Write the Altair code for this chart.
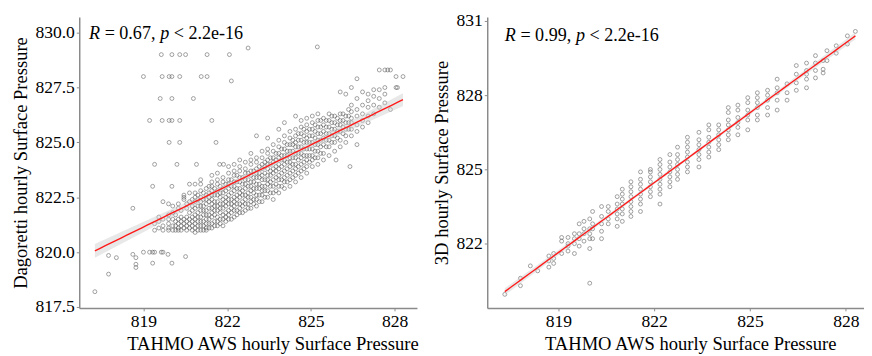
import altair as alt
import numpy as np
import pandas as pd

FONT = "Liberation Serif"

# ---------------- Left panel: Dagoretti vs TAHMO ----------------
left_col_x = [819.40, 819.55, 819.70, 819.90, 820.05, 820.25, 820.45, 820.65, 820.85, 821.05,
              821.25, 821.45, 821.65, 821.85, 822.05, 822.25, 822.45, 822.65, 822.85, 823.05,
              823.25, 823.45, 823.65, 823.85, 824.05, 824.25, 824.45, 824.65, 824.85, 825.05,
              825.25, 825.45, 825.65, 825.85, 826.05, 826.25, 826.45, 826.65, 826.85, 827.05,
              827.25, 827.45, 827.65, 827.85, 828.05, 828.30]
left_col_y = [
    [821.0, 821.3],
    [821.1, 821.4, 821.6],
    [821.0, 821.2, 821.5, 822.3],
    [821.0, 821.1, 821.3, 821.5, 821.7, 822.2],
    [821.0, 821.2, 821.5, 821.8, 822.1],
    [821.0, 821.1, 821.3, 821.5, 822.0, 822.2],
    [821.1, 821.3, 821.5, 822.4, 822.5, 822.6],
    [821.1, 821.3, 821.5, 821.8, 822.3, 822.7, 823.1],
    [820.9, 821.1, 821.3, 821.5, 821.7, 822.0, 822.3, 822.5, 822.7, 823.1],
    [821.0, 821.2, 821.4, 821.6, 821.9, 822.1, 822.3, 822.5, 822.8, 823.1, 823.3],
    [821.0, 821.1, 821.3, 821.5, 821.7, 821.9, 822.2, 822.4, 822.6, 822.9],
    [821.1, 821.3, 821.6, 821.8, 822.0, 822.2, 822.4, 822.6, 822.8, 823.0, 823.2, 823.5],
    [821.2, 821.4, 821.6, 821.9, 822.1, 822.3, 822.6, 822.8, 823.1, 823.3, 823.6],
    [821.2, 821.5, 821.7, 822.0, 822.2, 822.4, 822.7, 822.9, 823.2, 823.4],
    [821.5, 821.7, 821.9, 822.2, 822.4, 822.6, 822.9, 823.1, 823.3, 823.6, 823.9],
    [821.6, 821.9, 822.1, 822.3, 822.5, 822.8, 823.0, 823.2, 823.5, 823.7, 824.0],
    [821.8, 822.0, 822.2, 822.5, 822.7, 822.9, 823.2, 823.4, 823.7, 823.9, 824.2],
    [821.9, 822.2, 822.4, 822.6, 822.9, 823.1, 823.3, 823.6, 823.8, 824.1],
    [822.0, 822.3, 822.5, 822.8, 823.0, 823.2, 823.5, 823.7, 824.0, 824.2, 824.5],
    [822.1, 822.4, 822.6, 822.9, 823.1, 823.4, 823.6, 823.8, 824.1, 824.3, 825.3],
    [822.3, 822.6, 822.8, 823.0, 823.3, 823.5, 823.8, 824.0, 824.3, 824.6],
    [822.5, 822.8, 823.1, 823.3, 823.5, 823.8, 824.0, 824.2, 824.5, 824.7, 825.2],
    [822.4, 822.7, 823.0, 823.3, 823.6, 823.8, 824.1, 824.3, 824.6, 824.9],
    [822.7, 823.0, 823.3, 823.5, 823.8, 824.0, 824.3, 824.5, 824.8, 825.1, 825.6],
    [822.9, 823.2, 823.4, 823.7, 824.0, 824.2, 824.4, 824.7, 825.0, 825.3, 825.9],
    [823.0, 823.3, 823.6, 823.9, 824.1, 824.3, 824.6, 824.9, 825.2, 825.5],
    [823.2, 823.5, 823.8, 824.0, 824.3, 824.5, 824.8, 825.0, 825.3, 825.6, 826.2],
    [823.4, 823.7, 824.0, 824.3, 824.5, 824.8, 825.1, 825.4, 825.7, 826.0],
    [823.6, 823.9, 824.2, 824.4, 824.7, 825.0, 825.2, 825.5, 825.8, 826.1],
    [823.9, 824.2, 824.4, 824.7, 825.0, 825.3, 825.6, 825.9, 826.2],
    [824.0, 824.3, 824.6, 824.9, 825.1, 825.4, 825.7, 826.0, 826.3],
    [824.2, 824.5, 824.9, 825.2, 825.5, 825.8, 826.1],
    [824.4, 824.8, 825.1, 825.4, 825.7, 826.0, 826.3],
    [824.6, 825.0, 825.3, 825.6, 825.9, 826.2],
    [824.8, 825.1, 825.5, 825.8, 826.0, 826.3, 827.3],
    [825.0, 825.3, 825.6, 825.9, 826.2, 827.2],
    [825.3, 825.6, 825.9, 826.1, 826.4, 826.7, 827.5],
    [824.9, 825.5, 825.8, 826.2, 826.5, 827.0, 827.9],
    [825.7, 826.0, 826.3, 826.7, 827.3],
    [825.9, 826.2, 826.6, 826.9, 827.2],
    [826.3, 826.7, 827.1, 827.4],
    [826.6, 827.0, 827.4, 828.3],
    [826.8, 827.2, 827.5, 828.3],
    [826.5, 828.3],
    [827.5, 828.0],
    [828.0],
]
# in-between columns of the dense main cloud
left_col2_x = [820.15, 820.35, 820.55, 820.75, 820.95, 821.15, 821.35, 821.55, 821.75, 821.95,
               822.15, 822.35, 822.55, 822.75, 822.95, 823.15, 823.35, 823.55, 823.75, 823.95,
               824.15, 824.35, 824.55, 824.75, 824.95, 825.15, 825.35, 825.55, 825.75, 825.95,
               826.15, 826.35]
left_col2_y = [
    [821.0, 821.2, 821.4, 821.7],
    [821.0, 821.2, 821.4, 821.6, 821.9],
    [821.0, 821.2, 821.4, 821.6, 822.0, 822.2],
    [821.0, 821.2, 821.4, 821.6, 821.9, 822.1, 822.4],
    [821.0, 821.2, 821.4, 821.6, 821.8, 822.1, 822.4, 822.6],
    [821.0, 821.2, 821.4, 821.7, 821.9, 822.1, 822.4, 822.7],
    [821.1, 821.3, 821.5, 821.7, 822.0, 822.3, 822.5, 822.7, 823.0],
    [821.2, 821.4, 821.7, 821.9, 822.1, 822.3, 822.6, 822.9],
    [821.3, 821.5, 821.8, 822.0, 822.2, 822.5, 822.7, 823.0],
    [821.4, 821.6, 821.8, 822.1, 822.3, 822.5, 822.8, 823.1],
    [821.5, 821.8, 822.0, 822.2, 822.4, 822.7, 823.0, 823.3],
    [821.7, 821.9, 822.2, 822.4, 822.6, 822.9, 823.2, 823.5],
    [821.8, 822.1, 822.3, 822.6, 822.8, 823.1, 823.4],
    [822.0, 822.2, 822.5, 822.7, 823.0, 823.3, 823.6],
    [822.2, 822.4, 822.7, 822.9, 823.2, 823.4, 823.7],
    [822.3, 822.6, 822.9, 823.1, 823.4, 823.6, 823.9],
    [822.5, 822.8, 823.0, 823.3, 823.6, 823.9, 824.1],
    [822.7, 823.0, 823.2, 823.5, 823.7, 824.0, 824.3],
    [822.8, 823.1, 823.4, 823.7, 823.9, 824.2, 824.5],
    [823.0, 823.3, 823.6, 823.9, 824.2, 824.4, 824.7],
    [823.2, 823.5, 823.8, 824.1, 824.4, 824.6, 824.9],
    [823.4, 823.7, 824.0, 824.3, 824.6, 824.9, 825.1],
    [823.6, 823.9, 824.2, 824.5, 824.8, 825.1, 825.4],
    [823.8, 824.1, 824.4, 824.7, 825.0, 825.3, 825.6],
    [824.1, 824.4, 824.7, 825.0, 825.3, 825.6],
    [824.3, 824.6, 824.9, 825.2, 825.5, 825.8],
    [824.5, 824.8, 825.1, 825.4, 825.7, 826.0],
    [824.8, 825.1, 825.4, 825.7, 826.0],
    [825.0, 825.3, 825.6, 825.9, 826.2],
    [825.2, 825.5, 825.8, 826.1],
    [825.4, 825.7, 826.0, 826.3],
    [825.6, 825.9, 826.2, 826.5],
]
left_extra_x = [819.64, 820.02, 820.30, 820.51, 821.28, 822.08, 822.75, 825.23,
                819.00, 819.67, 819.92, 820.02, 820.30, 821.07, 821.28, 822.15,
                819.60, 820.02, 820.79,
                819.22, 819.67, 819.92, 820.02, 820.30, 821.45,
                819.92, 820.30, 821.60,
                819.40, 820.20, 820.90, 821.73, 821.87,
                817.26, 817.75, 817.75, 818.03, 818.62, 818.62, 818.73, 818.73, 818.73,
                819.00, 819.22, 819.33, 819.40, 819.64, 819.70, 819.88, 819.33, 820.02,
                820.51, 819.33, 820.02, 826.40, 825.90, 828.10, 827.75]
left_extra_y = [829.0, 829.0, 829.0, 829.0, 829.0, 829.0, 829.3, 829.35,
                828.0, 828.0, 828.0, 828.0, 828.0, 828.0, 828.0, 827.8,
                827.0, 827.0, 827.0,
                826.0, 826.0, 826.0, 826.0, 826.0, 826.0,
                825.0, 825.0, 825.0,
                824.0, 824.0, 824.0, 824.0, 824.0,
                818.2, 819.0, 819.85, 819.75, 822.0, 819.9, 819.75, 819.45, 819.3,
                820.0, 820.0, 820.0, 820.0, 820.0, 820.0, 819.9, 819.5, 819.5,
                819.8, 823.0, 823.0, 823.9, 824.2, 827.5, 828.3]

# ---------------- Right panel: 3D vs TAHMO ----------------
right_col_x = [817.32, 817.81, 818.12, 818.35, 818.70, 818.85, 819.10, 819.30, 819.50, 819.65,
               819.80, 819.98, 820.07, 820.35, 820.56, 820.84, 821.00, 821.27, 821.57, 821.88,
               822.18, 822.49, 822.73, 823.04, 823.40, 823.71, 824.02, 824.32, 824.62, 824.93,
               825.23, 825.55, 825.85, 826.16, 826.45, 826.77, 827.05, 827.29, 827.41, 827.70,
               828.05, 828.30]
right_col_y = [
    [819.95],
    [820.3, 820.6],
    [821.1],
    [820.9],
    [821.05, 821.3, 821.5],
    [821.2, 821.4, 821.6],
    [821.6, 822.1, 822.25],
    [821.7, 821.9, 822.0, 822.25],
    [821.6, 822.0, 822.2, 822.4],
    [821.9, 822.2, 822.4, 822.8],
    [822.1, 822.4, 822.6, 822.9],
    [820.4, 821.8, 822.2, 822.4, 822.6, 823.0],
    [822.2, 822.6, 822.8, 823.3],
    [822.2, 822.5, 822.8, 823.1, 823.5],
    [822.8, 823.0, 823.3, 823.5],
    [822.7, 823.0, 823.2, 823.4, 823.6, 823.9],
    [822.9, 823.2, 823.4, 823.6, 823.8, 824.0, 824.2],
    [823.1, 823.3, 823.5, 823.7, 823.9, 824.1, 824.3, 824.5],
    [823.3, 823.6, 823.8, 824.0, 824.2, 824.4, 824.6, 824.9],
    [823.9, 824.1, 824.3, 824.5, 824.7, 824.9, 825.0],
    [823.6, 824.0, 824.2, 824.4, 824.6, 824.8, 825.0, 825.2, 825.4],
    [824.3, 824.5, 824.7, 824.9, 825.1, 825.3, 825.6],
    [824.6, 824.8, 825.0, 825.2, 825.4, 825.6, 825.9],
    [824.9, 825.1, 825.3, 825.5, 825.7, 825.9, 826.1, 826.3],
    [825.1, 825.4, 825.6, 825.8, 826.0, 826.2, 826.5],
    [825.5, 825.7, 825.9, 826.1, 826.3, 826.6, 826.8],
    [825.8, 826.0, 826.2, 826.4, 826.6, 826.8],
    [826.2, 826.4, 826.6, 826.8, 827.0, 827.3, 827.5],
    [826.4, 826.7, 826.9, 827.1, 827.4, 827.6],
    [826.6, 827.0, 827.2, 827.4, 827.7, 827.9],
    [827.0, 827.2, 827.5, 827.7, 827.9, 828.1],
    [827.2, 827.5, 827.8, 828.0, 828.2],
    [827.4, 827.8, 828.1, 828.3, 828.65],
    [827.8, 828.1, 828.46],
    [828.2, 828.5, 828.85, 829.2],
    [828.3, 828.65, 828.85, 829.0, 829.3],
    [828.7, 829.0, 829.3, 829.6],
    [828.9, 829.05, 829.4],
    [829.4, 829.8],
    [829.7, 830.0],
    [830.07, 830.4],
    [830.58],
]

left_r = "0.67"
right_r = "0.99"
p_value = "2.2e-16"
x_title = "TAHMO AWS hourly Surface Pressure"
left_y_title = "Dagoretti hourly Surface Pressure"
right_y_title = "3D hourly Surface Pressure"

left_x_ticks = [819, 822, 825, 828]
left_y_ticks = [817.5, 820.0, 822.5, 825.0, 827.5, 830.0]
right_x_ticks = [819, 822, 825, 828]
right_y_ticks = [822, 825, 828, 831]


def build_points(col_sets, ex=None, ey=None):
    xs, ys = [], []
    for cx, cy in col_sets:
        for x, col in zip(cx, cy):
            for y in col:
                xs.append(x)
                ys.append(y)
    if ex:
        xs += ex
        ys += ey
    return pd.DataFrame({"x": xs, "y": ys})


def fit_band(df):
    x = df["x"].to_numpy()
    y = df["y"].to_numpy()
    n = len(x)
    b, a = np.polyfit(x, y, 1)
    xg = np.linspace(x.min(), x.max(), 60)
    yhat = a + b * xg
    s = np.sqrt(((y - (a + b * x)) ** 2).sum() / (n - 2))
    se = s * np.sqrt(1.0 / n + (xg - x.mean()) ** 2 / ((x - x.mean()) ** 2).sum())
    return pd.DataFrame({"x": xg, "fit": yhat, "lo": yhat - 1.96 * se, "hi": yhat + 1.96 * se})


def panel(df, x_dom, y_dom, x_ticks, y_ticks, y_fmt, y_title, r_text, w, h, tx, ty, title_x):
    band = fit_band(df)
    xs = alt.Scale(domain=x_dom, nice=False, zero=False)
    ys = alt.Scale(domain=y_dom, nice=False, zero=False)
    xaxis = alt.Axis(values=x_ticks, format="d", title=x_title, grid=False, titleX=title_x)
    yaxis = alt.Axis(values=y_ticks, format=y_fmt, title=y_title, grid=False)
    pts = alt.Chart(df).mark_point(shape="circle", filled=False, size=16,
                                   stroke="#555555", strokeWidth=0.8).encode(
        x=alt.X("x:Q", scale=xs, axis=xaxis),
        y=alt.Y("y:Q", scale=ys, axis=yaxis),
    )
    area = alt.Chart(band).mark_area(color="#cccccc", opacity=0.45).encode(
        x=alt.X("x:Q", scale=xs, axis=xaxis),
        y=alt.Y("lo:Q", scale=ys, axis=yaxis),
        y2="hi:Q",
    )
    line = alt.Chart(band).mark_line(color="#ff1a1a", strokeWidth=1.4).encode(
        x=alt.X("x:Q", scale=xs, axis=xaxis),
        y=alt.Y("fit:Q", scale=ys, axis=yaxis),
    )
    segs = [("R", "italic", 0), ("= " + r_text + ",", "normal", 16.0),
            ("p", "italic", 73.0), ("< " + p_value, "normal", 86.8)]
    texts = []
    for t, style, off in segs:
        texts.append(
            alt.Chart(pd.DataFrame({"t": [t]})).mark_text(
                font=FONT, fontSize=18.5, fontStyle=style, align="left",
                baseline="alphabetic", color="black").encode(
                x=alt.value(tx + off), y=alt.value(ty), text="t:N")
        )
    return alt.layer(pts, area, line, *texts).properties(width=w, height=h)


left_df = build_points([(left_col_x, left_col_y), (left_col2_x, left_col2_y)],
                       left_extra_x, left_extra_y)
right_df = build_points([(right_col_x, right_col_y)])

left = panel(left_df, [816.7, 828.8], [817.46, 830.71], left_x_ticks, left_y_ticks, ".1f",
             left_y_title, left_r, 346, 298, 10, 22, 198)
right = panel(right_df, [816.77, 828.57], [819.4, 831.16], right_x_ticks, right_y_ticks, "d",
              right_y_title, right_r, 386, 298, 18, 25, 208)

chart = alt.hconcat(left, right, spacing=14).properties(
    padding={"left": 3, "top": 0, "right": 0, "bottom": 0}
).configure_view(stroke=None).configure_axis(
    domainColor="#8a8a8a", domainWidth=1.5, tickColor="#8a8a8a", tickSize=3, tickWidth=1,
    labelFont=FONT, labelFontSize=18, labelColor="black", labelPadding=2,
    titleFont=FONT, titleFontSize=19, titleFontWeight="normal", titleColor="black",
    titlePadding=5,
)

chart.save("out.html", embed_options={"renderer": "svg", "actions": False})
